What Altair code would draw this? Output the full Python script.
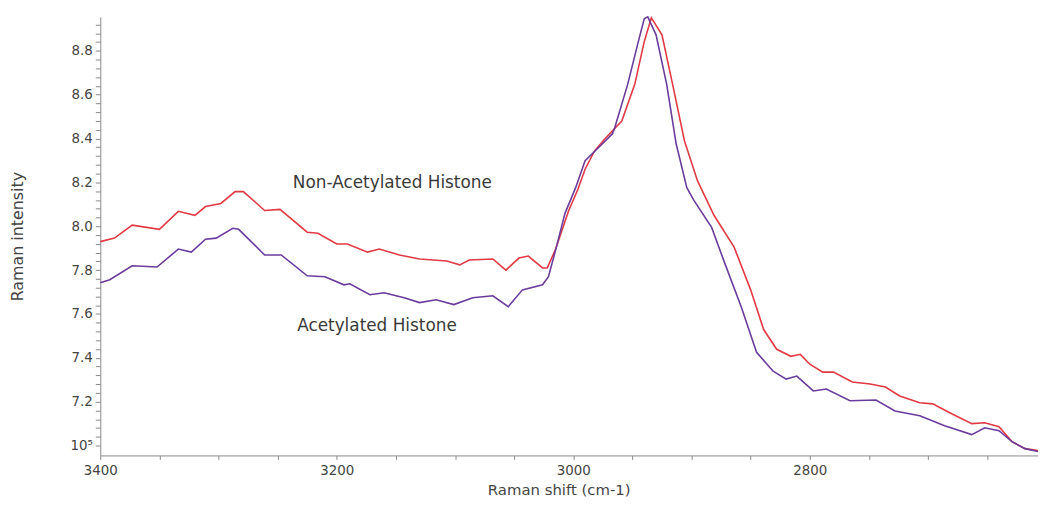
import altair as alt
import pandas as pd

# ---- data (Raman shift cm-1, intensity x 1e5) ----
non_x = [3400, 3388, 3373, 3350, 3334, 3320, 3311, 3298, 3286, 3279, 3261, 3248,
         3225, 3216, 3200, 3191, 3174, 3164, 3147, 3130, 3107, 3096, 3088, 3068,
         3057, 3046, 3038, 3026, 3022, 3015, 3004, 2996, 2990, 2982, 2973, 2959,
         2948, 2940, 2934, 2925, 2916, 2906, 2895, 2881, 2864, 2850, 2839, 2828,
         2816, 2808, 2800, 2789, 2780, 2764, 2749, 2736, 2724, 2707, 2696, 2680,
         2663, 2652, 2640, 2629, 2618, 2607]
non_y = [7.930, 7.946, 8.005, 7.986, 8.068, 8.050, 8.090, 8.104, 8.158, 8.158, 8.072, 8.077,
         7.973, 7.968, 7.919, 7.919, 7.882, 7.896, 7.869, 7.851, 7.842, 7.824, 7.846, 7.851,
         7.800, 7.855, 7.864, 7.810, 7.810, 7.895, 8.070, 8.170, 8.260, 8.344, 8.400, 8.480,
         8.647, 8.842, 8.950, 8.873, 8.647, 8.390, 8.208, 8.050, 7.905, 7.710, 7.529, 7.439,
         7.407, 7.416, 7.371, 7.335, 7.335, 7.290, 7.281, 7.267, 7.226, 7.195, 7.190, 7.145,
         7.100, 7.104, 7.086, 7.018, 6.986, 6.977]

ac_x = [3400, 3392, 3373, 3352, 3334, 3323, 3311, 3302, 3288, 3283, 3261, 3247,
        3225, 3210, 3194, 3189, 3172, 3160, 3143, 3130, 3116, 3101, 3085, 3068,
        3055, 3043, 3026, 3021, 3015, 3007, 2998, 2990, 2979, 2967, 2965, 2954,
        2945, 2940, 2937, 2930, 2921, 2913, 2904, 2898, 2883, 2872, 2858, 2845,
        2831, 2820, 2811, 2797, 2786, 2766, 2744, 2728, 2707, 2686, 2663, 2652,
        2640, 2629, 2618, 2607]
ac_y = [7.742, 7.756, 7.820, 7.814, 7.896, 7.882, 7.941, 7.946, 7.991, 7.986, 7.869, 7.869,
        7.774, 7.770, 7.733, 7.738, 7.688, 7.697, 7.674, 7.652, 7.665, 7.643, 7.674, 7.683,
        7.633, 7.710, 7.733, 7.770, 7.890, 8.059, 8.176, 8.299, 8.357, 8.421, 8.448, 8.647,
        8.842, 8.946, 8.955, 8.873, 8.647, 8.376, 8.176, 8.118, 7.995, 7.833, 7.633, 7.425,
        7.339, 7.303, 7.317, 7.249, 7.258, 7.204, 7.208, 7.158, 7.136, 7.090, 7.050, 7.081,
        7.068, 7.018, 6.986, 6.973]

series_names = ["Non-Acetylated Histone", "Acetylated Histone"]
series_colors = ["#e03a44", "#6a3c9c"]

label_texts = ["Non-Acetylated Histone", "Acetylated Histone"]
label_x = [3153, 3166]
label_y = [8.195, 7.543]

x_major = [3400, 3200, 3000, 2800]
x_major_labels = ["3400", "3200", "3000", "2800"]
x_tick_values = [3400, 3350, 3300, 3250, 3200, 3150, 3100, 3050, 3000, 2950,
                 2900, 2850, 2800, 2750, 2700, 2650]

y_major = [7.0, 7.2, 7.4, 7.6, 7.8, 8.0, 8.2, 8.4, 8.6, 8.8]
y_major_labels = ["10\u2075", "7.2", "7.4", "7.6", "7.8", "8.0", "8.2", "8.4", "8.6", "8.8"]
y_tick_values = [7.0, 7.04, 7.08, 7.12, 7.16, 7.2, 7.24, 7.28, 7.32, 7.36, 7.4, 7.44,
                 7.48, 7.52, 7.56, 7.6, 7.64, 7.68, 7.72, 7.76, 7.8, 7.84, 7.88, 7.92,
                 7.96, 8.0, 8.04, 8.08, 8.12, 8.16, 8.2, 8.24, 8.28, 8.32, 8.36, 8.4,
                 8.44, 8.48, 8.52, 8.56, 8.6, 8.64, 8.68, 8.72, 8.76, 8.8, 8.84, 8.88, 8.92]

x_domain = [2607, 3400]
y_domain = [6.955, 8.955]

# ---- build tables ----
lines = pd.concat([
    pd.DataFrame({"shift": non_x, "intensity": non_y, "series": series_names[0]}),
    pd.DataFrame({"shift": ac_x, "intensity": ac_y, "series": series_names[1]}),
], ignore_index=True)
labels = pd.DataFrame({"shift": label_x, "intensity": label_y, "text": label_texts})


def label_expr(values, texts, tol):
    expr = "''"
    for v, t in reversed(list(zip(values, texts))):
        expr = f"(abs(datum.value - {v}) < {tol} ? '{t}' : {expr})"
    return expr


FONT = "DejaVu Sans"
AX = "#8a8a8a"

x_scale = alt.Scale(domain=x_domain, reverse=True, nice=False, zero=False)
y_scale = alt.Scale(domain=y_domain, nice=False, zero=False)

x_axis = alt.Axis(
    values=x_tick_values, labelExpr=label_expr(x_major, x_major_labels, 0.5),
    title="Raman shift (cm-1)", grid=False, labelFlush=False, labelOverlap=False,
    domainColor=AX, tickColor=AX, tickSize=4, labelPadding=4,
    labelFont=FONT, labelFontSize=13.5, labelColor="#444444",
    titleFont=FONT, titleFontSize=15, titleFontWeight="normal", titleColor="#444444",
    titleX=462, titleY=34, titleAlign="center", titleBaseline="middle",
)
y_axis = alt.Axis(
    values=y_tick_values, labelExpr=label_expr(y_major, y_major_labels, 0.001),
    title="Raman intensity", grid=False, labelOverlap=False, labelFlush=False,
    domainColor=AX, tickColor=AX, tickSize=5, labelPadding=3,
    labelFont=FONT, labelFontSize=13.5, labelColor="#444444",
    titleFont=FONT, titleFontSize=16, titleFontWeight="normal", titleColor="#444444",
    titleX=-83, titleY=221, titleAngle=-90, titleAlign="center", titleBaseline="middle",
)

line_chart = alt.Chart(lines).mark_line(strokeWidth=1.6).encode(
    x=alt.X("shift:Q", scale=x_scale, axis=x_axis),
    y=alt.Y("intensity:Q", scale=y_scale, axis=y_axis),
    color=alt.Color("series:N", scale=alt.Scale(domain=series_names, range=series_colors),
                    legend=None),
    detail="series:N",
)

text_chart = alt.Chart(labels).mark_text(
    font=FONT, fontSize=17, color="#3a3a3a", align="center", baseline="middle"
).encode(
    x=alt.X("shift:Q", scale=x_scale, axis=x_axis),
    y=alt.Y("intensity:Q", scale=y_scale, axis=y_axis),
    text="text:N",
)

chart = alt.layer(line_chart, text_chart).properties(
    width=945, height=442,
    autosize=alt.AutoSizeParams(type="none"),
    padding={"left": 93, "top": 7, "right": 0, "bottom": 41},
    background="white",
).configure_view(stroke=None)

chart.save("out.html", embed_options={"renderer": "svg", "actions": False})
